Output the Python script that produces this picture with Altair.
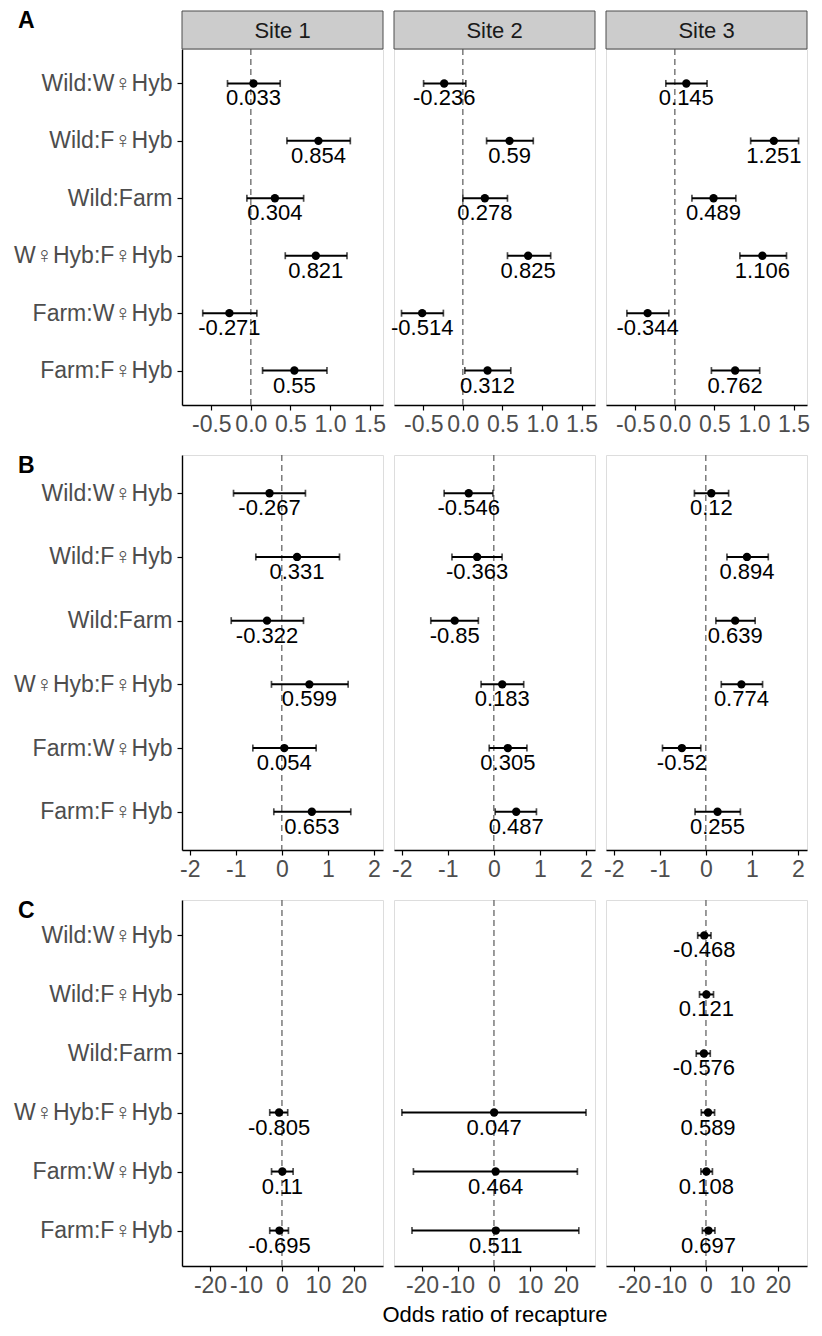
import altair as alt
import pandas as pd

FONT = "Liberation Sans"
cats = ["Wild:W♀Hyb", "Wild:F♀Hyb", "Wild:Farm", "W♀Hyb:F♀Hyb", "Farm:W♀Hyb", "Farm:F♀Hyb"]
sites = ["Site 1", "Site 2", "Site 3"]

# Panel A
A1_est = [0.033, 0.854, 0.304, 0.821, -0.271, 0.55]
A1_lo = [-0.295, 0.456, -0.05, 0.435, -0.608, 0.148]
A1_hi = [0.371, 1.257, 0.667, 1.215, 0.076, 0.962]
A2_est = [-0.236, 0.59, 0.278, 0.825, -0.514, 0.312]
A2_lo = [-0.496, 0.30, 0.0, 0.564, -0.775, 0.025]
A2_hi = [0.038, 0.89, 0.564, 1.11, -0.246, 0.606]
A3_est = [0.145, 1.251, 0.489, 1.106, -0.344, 0.762]
A3_lo = [-0.114, 0.958, 0.216, 0.822, -0.606, 0.462]
A3_hi = [0.407, 1.564, 0.771, 1.411, -0.076, 1.072]

# Panel B
B1_est = [-0.267, 0.331, -0.322, 0.599, 0.054, 0.653]
B1_lo = [-1.05, -0.565, -1.10, -0.225, -0.63, -0.174]
B1_hi = [0.514, 1.254, 0.471, 1.442, 0.746, 1.50]
B2_est = [-0.546, -0.363, -0.85, 0.183, 0.305, 0.487]
B2_lo = [-1.08, -0.91, -1.37, -0.277, -0.10, 0.03]
B2_hi = [-0.02, 0.18, -0.336, 0.65, 0.72, 0.927]
B3_est = [0.12, 0.894, 0.639, 0.774, -0.52, 0.255]
B3_lo = [-0.248, 0.46, 0.219, 0.336, -0.942, -0.234]
B3_hi = [0.496, 1.358, 1.073, 1.234, -0.109, 0.752]

# Panel C
C1_est = [None, None, None, -0.805, 0.11, -0.695]
C1_lo = [None, None, None, -3.4, -2.9, -3.4]
C1_hi = [None, None, None, 1.6, 3.1, 1.8]
C2_est = [None, None, None, 0.047, 0.464, 0.511]
C2_lo = [None, None, None, -25.6, -22.4, -22.8]
C2_hi = [None, None, None, 25.6, 23.2, 23.6]
C3_est = [-0.468, 0.121, -0.576, 0.589, 0.108, 0.697]
C3_lo = [-2.3, -1.8, -2.7, -1.3, -1.4, -1.0]
C3_hi = [1.4, 2.1, 1.2, 2.4, 1.8, 2.5]

A_dom, A_ticks, A_fmt = [-0.87, 1.67], [-0.5, 0.0, 0.5, 1.0, 1.5], ".1f"
B_dom, B_ticks, B_fmt = [-2.17, 2.2], [-2, -1, 0, 1, 2], "d"
C_dom, C_ticks, C_fmt = [-27.8, 28.1], [-20, -10, 0, 10, 20], "d"

PW = 201
STRIP_H = 38
LETTER_X = -164


def panel(est, lo, hi, dom, ticks, fmt, height, left, letter=None, letter_y=0, xtitle=None, site=None):
    df = pd.DataFrame({"cat": cats, "est": est, "lo": lo, "hi": hi}).dropna()
    df["label"] = df["est"].map(lambda v: f"{v:g}")
    xscale = alt.Scale(domain=dom, nice=False, zero=False)
    ax_kw = dict(values=ticks, labelExpr=f"replace(format(datum.value, '{fmt}'), '\u2212', '-')",
                 grid=False, domainColor="black", domainWidth=1.4,
                 tickColor="black", tickSize=5, tickWidth=1.2, labelFont=FONT, labelFontSize=23,
                 labelColor="#4D4D4D", labelPadding=3, labelFlush=False, labelOverlap=False)
    if xtitle:
        ax_kw.update(titleFont=FONT, titleFontSize=22, titleColor="black", titleFontWeight="normal",
                     titlePadding=7)
    xaxis = alt.Axis(**ax_kw)
    yscale = alt.Scale(type="point", domain=cats, padding=0.6)
    if left:
        yaxis = alt.Axis(domainColor="black", domainWidth=1.4, tickColor="black", tickSize=5,
                         tickWidth=1.2, labelFont=FONT, labelFontSize=23, labelColor="#4D4D4D",
                         labelPadding=5, grid=False)
        yenc = alt.Y("cat:N", sort=cats, scale=yscale, axis=yaxis, title=None)
    else:
        yenc = alt.Y("cat:N", sort=cats, scale=yscale, axis=None)

    zero = alt.Chart(pd.DataFrame({"z": [0]})).mark_rule(
        color="#666666", strokeDash=[6, 4], strokeWidth=1.3
    ).encode(x=alt.X("z:Q", scale=xscale, axis=xaxis, title=xtitle if xtitle else None))
    base = alt.Chart(df).encode(y=yenc)
    err = base.mark_rule(color="black", strokeWidth=2).encode(
        x=alt.X("lo:Q", scale=xscale), x2="hi:Q")
    capl = base.mark_tick(color="black", thickness=1.7, size=7).encode(x=alt.X("lo:Q", scale=xscale))
    caph = base.mark_tick(color="black", thickness=1.7, size=7).encode(x=alt.X("hi:Q", scale=xscale))
    pts = base.mark_circle(color="black", size=70, opacity=1).encode(x=alt.X("est:Q", scale=xscale))
    txt = base.mark_text(font=FONT, fontSize=22, baseline="alphabetic", dy=22, color="black").encode(
        x=alt.X("est:Q", scale=xscale), text="label:N")
    layers = [zero, err, capl, caph, pts, txt]
    if site:
        sdf = pd.DataFrame({"s": [site]})
        layers.append(
            alt.Chart(sdf).mark_rect(fill="#CCCCCC", stroke="#4D4D4D", strokeWidth=1).encode(
                x=alt.value(0), x2=alt.value(PW), y=alt.value(-STRIP_H), y2=alt.value(0))
        )
        layers.append(
            alt.Chart(sdf).mark_text(font=FONT, fontSize=22, color="#1A1A1A", baseline="middle").encode(
                text="s:N", x=alt.value(PW / 2), y=alt.value(-STRIP_H / 2 + 1))
        )
    if letter:
        layers.append(
            alt.Chart(pd.DataFrame({"t": [letter]})).mark_text(
                font=FONT, fontSize=23, fontWeight="bold", align="left", baseline="top", color="black"
            ).encode(x=alt.value(LETTER_X), y=alt.value(letter_y), text="t:N")
        )
    return alt.layer(*layers).properties(width=PW, height=height)


HA, HB, HC = 356, 395, 366

panels = [
    panel(A1_est, A1_lo, A1_hi, A_dom, A_ticks, A_fmt, HA, True, letter="A", letter_y=-39, site="Site 1"),
    panel(A2_est, A2_lo, A2_hi, A_dom, A_ticks, A_fmt, HA, False, site="Site 2"),
    panel(A3_est, A3_lo, A3_hi, A_dom, A_ticks, A_fmt, HA, False, site="Site 3"),
    panel(B1_est, B1_lo, B1_hi, B_dom, B_ticks, B_fmt, HB, True, letter="B"),
    panel(B2_est, B2_lo, B2_hi, B_dom, B_ticks, B_fmt, HB, False),
    panel(B3_est, B3_lo, B3_hi, B_dom, B_ticks, B_fmt, HB, False),
    panel(C1_est, C1_lo, C1_hi, C_dom, C_ticks, C_fmt, HC, True, letter="C"),
    panel(C2_est, C2_lo, C2_hi, C_dom, C_ticks, C_fmt, HC, False, xtitle="Odds ratio of recapture"),
    panel(C3_est, C3_lo, C3_hi, C_dom, C_ticks, C_fmt, HC, False),
]

chart = alt.concat(*panels, columns=3, spacing={"row": 50, "column": 11}, bounds="flush").properties(
    padding={"left": 5, "top": 1, "right": 0, "bottom": 0}
).configure_view(stroke="#666666", strokeWidth=1).configure(background="white")

chart.save("out.html", embed_options={"renderer": "svg", "actions": False})
